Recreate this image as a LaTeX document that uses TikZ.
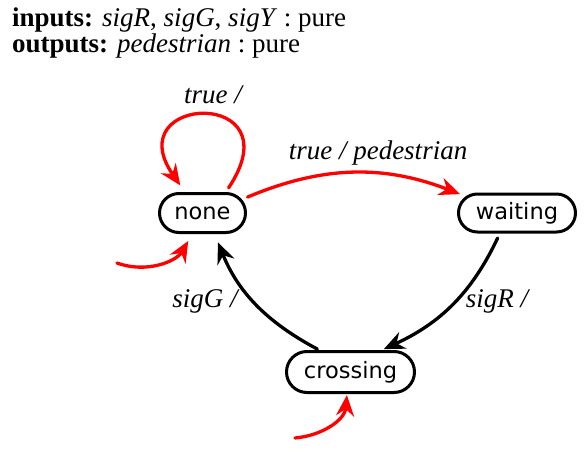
\documentclass[tikz,border=0pt]{standalone}
\usepackage{fontspec}
\setmainfont{Liberation Serif}
\newfontfamily\statefont{DejaVu Sans}
\usetikzlibrary{arrows.meta,shapes.misc}

\tikzset{
  fsm state/.style={draw,line width=3pt,rounded rectangle,inner sep=0pt,
    font=\statefont\fontsize{22.5}{26}\selectfont},
  trans/.style={line width=3.3pt,-{Stealth[length=21pt,width=18pt,inset=7pt]}},
  lbl/.style={inner sep=0pt,font=\itshape\fontsize{27}{30}\selectfont},
  head/.style={anchor=base west,inner sep=0pt,font=\fontsize{27}{30}\selectfont},
}

\begin{document}
\begin{tikzpicture}[x=1pt,y=1pt,line cap=round,line join=round]
  \useasboundingbox (0,0) rectangle (584,-450);
  % declarations
  \node[head] (ins) at (12,-26) {\textbf{inputs:} \textit{sigR}, \textit{sigG}, \textit{sigY}~:~pure};
  \node[head] (outs) at (12,-52) {\textbf{outputs:} \textit{pedestrian}~:~pure};
  % states
  \node[fsm state,minimum width=86pt,minimum height=39pt] (none) at (202.5,-213) {none};
  \node[fsm state,minimum width=117pt,minimum height=38pt] (waiting) at (517,-213) {waiting};
  \node[fsm state,minimum width=128pt,minimum height=41pt] (crossing) at (350.5,-372) {crossing};
  \coordinate (none init) at (117,-263);
  \coordinate (crossing init) at (295,-438);
  % transitions
  \draw[trans,red,shorten <=5pt,shorten >=8pt] (none.42) .. controls +(70,105) and +(-68,98) .. (none.130);
  \draw[trans,red,shorten <=6pt,shorten >=6pt] (none.19) to[bend left=22] (waiting.162);
  \draw[trans,shorten <=5pt,shorten >=2pt] (waiting.-130) to[bend left=20] (crossing.35);
  \draw[trans,shorten <=2pt,shorten >=9pt] (crossing.145) to[bend left=20] (none.-60);
  \draw[trans,red,shorten >=8pt] (none init) to[out=-20,in=-120] (none.-116);
  \draw[trans,red,shorten >=1pt] (crossing init) to[out=5,in=-95] (crossing.-99);
  % guards / outputs
  \node[lbl] (loop lbl) at (213,-95) {true /};
  \node[lbl] (go lbl) at (378,-153) {true / pedestrian};
  \node[lbl] (r lbl) at (497,-301) {sigR /};
  \node[lbl] (g lbl) at (205,-301) {sigG /};
\end{tikzpicture}
\end{document}
